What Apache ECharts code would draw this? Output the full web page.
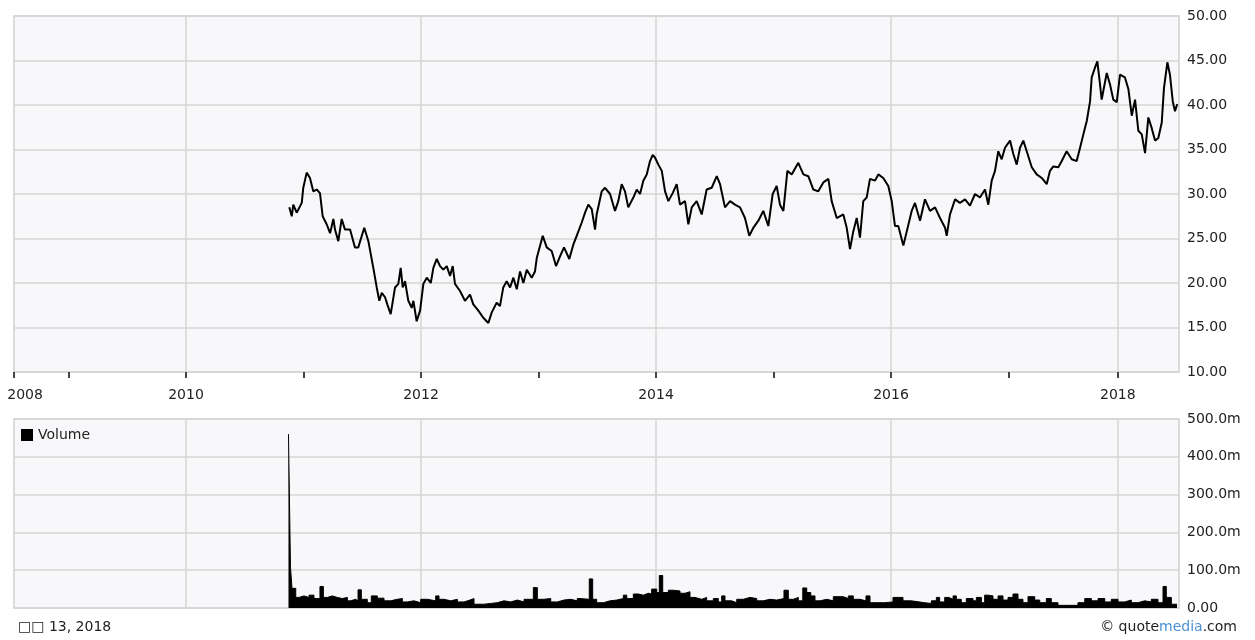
<!DOCTYPE html>
<html>
<head>
<meta charset="utf-8">
<script src="https://cdn.jsdelivr.net/npm/echarts@6/dist/echarts.min.js"></script>
<style>
html,body{margin:0;padding:0;background:#fff;}
#c{width:1255px;height:640px;}
</style>
</head>
<body>
<div id="c"></div>
<script>
// ---- Axis ranges & ticks (fractional years) ----
const xMin = 2008.536;
const xMax = 2018.451;
const yearTickValues = [2008.536, 2009, 2010, 2011, 2012, 2013, 2014, 2015, 2016, 2017, 2017.93];
const yearLabelValues = [2008.63, 2010, 2012, 2014, 2016, 2017.93];
const yearLabelTexts = ['2008', '2010', '2012', '2014', '2016', '2018'];
const yearGridValues = [2010, 2012, 2014, 2016, 2017.93];

// ---- Price (closing) ----
const priceYears = [
2010.879,2010.900,2010.913,2010.942,2010.985,2010.998,2011.027,2011.055,2011.083,2011.112,
2011.140,2011.163,2011.197,2011.226,2011.254,2011.268,2011.296,2011.325,2011.353,2011.396,
2011.438,2011.466,2011.517,2011.552,2011.594,2011.623,2011.645,2011.666,2011.694,2011.713,
2011.742,2011.779,2011.807,2011.827,2011.844,2011.864,2011.892,2011.921,2011.935,2011.963,
2011.992,2012.020,2012.049,2012.083,2012.105,2012.134,2012.162,2012.190,2012.219,2012.247,
2012.270,2012.289,2012.332,2012.374,2012.417,2012.445,2012.488,2012.530,2012.573,2012.602,
2012.644,2012.672,2012.700,2012.729,2012.758,2012.786,2012.815,2012.843,2012.871,2012.900,
2012.942,2012.970,2012.985,2013.036,2013.070,2013.112,2013.149,2013.183,2013.217,2013.262,
2013.296,2013.325,2013.368,2013.396,2013.424,2013.453,2013.481,2013.495,2013.538,2013.566,
2013.609,2013.651,2013.679,2013.708,2013.736,2013.764,2013.807,2013.836,2013.864,2013.892,
2013.921,2013.949,2013.972,2013.991,2014.020,2014.049,2014.077,2014.105,2014.142,2014.176,
2014.204,2014.247,2014.275,2014.304,2014.346,2014.389,2014.431,2014.474,2014.517,2014.545,
2014.587,2014.630,2014.672,2014.715,2014.757,2014.794,2014.828,2014.871,2014.913,2014.956,
2014.993,2015.027,2015.055,2015.084,2015.118,2015.155,2015.211,2015.254,2015.296,2015.339,
2015.381,2015.424,2015.467,2015.495,2015.538,2015.594,2015.623,2015.651,2015.679,2015.708,
2015.736,2015.764,2015.793,2015.821,2015.864,2015.892,2015.934,2015.977,2016.006,2016.034,
2016.062,2016.105,2016.134,2016.176,2016.204,2016.247,2016.289,2016.332,2016.375,2016.417,
2016.460,2016.474,2016.502,2016.545,2016.587,2016.630,2016.672,2016.715,2016.757,2016.800,
2016.828,2016.857,2016.885,2016.913,2016.942,2016.970,2017.013,2017.041,2017.070,2017.098,
2017.126,2017.155,2017.198,2017.240,2017.283,2017.325,2017.353,2017.381,2017.424,2017.453,
2017.495,2017.538,2017.580,2017.609,2017.637,2017.666,2017.694,2017.708,2017.736,2017.756,
2017.779,2017.793,2017.836,2017.864,2017.892,2017.921,2017.949,2017.991,2018.020,2018.049,
2018.077,2018.105,2018.134,2018.162,2018.190,2018.219,2018.247,2018.275,2018.304,2018.323,
2018.352,2018.374,2018.398,2018.417,2018.436
];
const priceValues = [
28.5,27.5,28.8,27.9,29.0,30.7,32.4,31.8,30.3,30.5,
30.1,27.5,26.6,25.6,27.2,26.0,24.7,27.2,26.0,26.0,
24.0,24.0,26.2,24.7,21.7,19.5,18.0,18.9,18.4,17.6,
16.5,19.5,19.9,21.7,19.5,20.2,18.0,17.2,18.0,15.7,
16.9,19.9,20.6,20.0,21.7,22.7,21.9,21.5,21.9,20.8,
21.9,19.9,19.1,18.0,18.7,17.6,16.9,16.1,15.5,16.7,
17.8,17.4,19.5,20.2,19.5,20.6,19.3,21.3,20.0,21.5,
20.6,21.3,22.8,25.3,24.0,23.6,21.9,23.0,24.0,22.7,
24.3,25.3,26.8,27.9,28.8,28.3,26.0,27.7,30.3,30.7,
30.0,28.1,29.2,31.1,30.3,28.5,29.6,30.5,30.0,31.5,
32.2,33.7,34.4,34.1,33.3,32.6,30.3,29.2,30.1,31.1,
28.8,29.2,26.6,28.5,29.2,27.7,30.5,30.7,32.0,31.1,
28.5,29.2,28.8,28.5,27.3,25.3,26.2,27.0,28.1,26.4,
30.0,30.9,28.8,28.1,32.6,32.2,33.5,32.2,32.0,30.5,
30.3,31.3,31.7,29.2,27.3,27.7,26.2,23.8,25.8,27.3,
25.1,29.2,29.6,31.7,31.5,32.2,31.8,30.9,29.2,26.4,
26.4,24.2,25.8,28.1,29.0,27.0,29.4,28.1,28.5,27.3,
26.2,25.3,27.7,29.4,29.0,29.4,28.7,30.0,29.6,30.5,
28.8,31.5,32.6,34.8,33.9,35.2,36.0,34.5,33.3,35.2,
36.0,34.8,33.0,32.2,31.8,31.1,32.6,33.1,33.0,33.7,
34.8,33.9,33.7,35.2,36.7,38.2,40.4,43.1,44.2,44.9,
42.3,40.6,43.6,42.3,40.6,40.3,43.4,43.1,41.8,38.8,
40.6,37.1,36.7,34.6,38.6,37.4,36.0,36.3,38.0,41.9,
44.8,43.4,40.4,39.3,40.1
];

// ---- Volume (millions), each value holds from its year to the next ----
const volumeYears = [
2010.872,2010.889,2010.902,2010.934,2010.962,2011.004,2011.047,2011.089,2011.140,2011.169,
2011.203,2011.245,2011.288,2011.330,2011.373,2011.401,2011.444,2011.464,2011.492,2011.543,
2011.577,2011.628,2011.685,2011.742,2011.798,2011.841,2011.883,2011.940,2011.997,2012.054,
2012.125,2012.153,2012.196,2012.253,2012.309,2012.366,2012.417,2012.451,2012.536,2012.593,
2012.649,2012.706,2012.763,2012.820,2012.877,2012.956,2012.990,2013.047,2013.104,2013.160,
2013.217,2013.274,2013.330,2013.353,2013.432,2013.461,2013.495,2013.552,2013.609,2013.666,
2013.722,2013.751,2013.807,2013.849,2013.892,2013.934,2013.963,2014.006,2014.028,2014.057,
2014.105,2014.147,2014.204,2014.247,2014.289,2014.332,2014.389,2014.431,2014.488,2014.530,
2014.559,2014.587,2014.644,2014.687,2014.743,2014.800,2014.857,2014.913,2014.970,2015.027,
2015.089,2015.126,2015.169,2015.211,2015.249,2015.283,2015.317,2015.353,2015.396,2015.453,
2015.509,2015.594,2015.637,2015.679,2015.736,2015.787,2015.821,2015.946,2016.017,2016.102,
2016.173,2016.287,2016.343,2016.386,2016.414,2016.457,2016.491,2016.528,2016.556,2016.598,
2016.641,2016.698,2016.726,2016.769,2016.797,2016.826,2016.868,2016.911,2016.953,2016.996,
2017.038,2017.081,2017.123,2017.166,2017.223,2017.266,2017.322,2017.364,2017.421,2017.591,
2017.649,2017.705,2017.762,2017.819,2017.875,2017.932,2017.989,2018.045,2018.102,2018.159,
2018.215,2018.272,2018.315,2018.343,2018.386,2018.434
];
const volumeValues = [
460,108,52,28,32,28,34,25,57,28,
32,28,25,28,19,23,19,48,23,14,
32,26,19,23,25,16,19,14,23,19,
32,23,19,23,16,21,25,10,12,14,
19,16,21,16,23,54,23,25,16,21,
23,19,25,23,77,23,14,19,21,25,
34,25,37,34,39,37,50,41,86,41,
47,45,39,43,28,23,28,19,25,16,
32,19,14,23,28,25,19,23,21,25,
47,23,28,19,53,41,32,19,23,19,
30,25,32,23,19,32,14,16,28,19,
14,12,19,28,16,28,23,32,23,14,
25,19,28,14,34,32,23,32,21,28,
37,23,14,30,21,14,25,14,7,14,
25,19,25,16,23,16,21,14,19,16,
23,14,57,28,10,10
];

const zip = (xs, ys) => xs.map((x, i) => [x, ys[i]]);

const FONT = 'DejaVu Sans';
const labelStyle = { color: '#222', fontFamily: FONT, fontSize: 14 };
const gridLine = { show: true, lineStyle: { color: '#d6d6d6', width: 1.5 } };

const chart = echarts.init(document.getElementById('c'), null, { renderer: 'canvas' });

chart.setOption({
  animation: false,
  backgroundColor: '#ffffff',
  legend: {
    data: ['Volume'],
    left: 16, top: 423,
    icon: 'rect', itemWidth: 12, itemHeight: 12, itemGap: 6,
    textStyle: { color: '#222', fontFamily: FONT, fontSize: 14 },
    selectedMode: false
  },
  grid: [
    { left: 14, right: 76, top: 16, height: 356, show: true, backgroundColor: '#f8f8fb', borderColor: '#cfcfcf', borderWidth: 1.5 },
    { left: 14, right: 76, top: 419, height: 189, show: true, backgroundColor: '#f8f8fb', borderColor: '#cfcfcf', borderWidth: 1.5 }
  ],
  xAxis: [
    { // top: ticks & labels
      type: 'value', gridIndex: 0, min: xMin, max: xMax, position: 'bottom',
      axisLine: { show: false },
      axisTick: { show: true, length: 6, inside: false, customValues: yearTickValues, lineStyle: { color: '#444', width: 2 } },
      axisLabel: {
        show: true, margin: 16, customValues: yearLabelValues, ...labelStyle,
        formatter: v => yearLabelTexts[yearLabelValues.indexOf(v)] ?? ''
      },
      splitLine: { show: false }
    },
    { // top: vertical grid lines
      type: 'value', gridIndex: 0, min: xMin, max: xMax, position: 'bottom',
      axisLine: { show: false },
      axisTick: { show: false, customValues: yearGridValues },
      axisLabel: { show: false },
      splitLine: gridLine
    },
    { // bottom: vertical grid lines
      type: 'value', gridIndex: 1, min: xMin, max: xMax, position: 'bottom',
      axisLine: { show: false },
      axisTick: { show: false, customValues: yearGridValues },
      axisLabel: { show: false },
      splitLine: gridLine
    }
  ],
  yAxis: [
    {
      type: 'value', gridIndex: 0, position: 'right', min: 10, max: 50, interval: 5,
      axisLine: { show: false }, axisTick: { show: false },
      axisLabel: { margin: 8, ...labelStyle, formatter: v => v.toFixed(2) },
      splitLine: gridLine
    },
    {
      type: 'value', gridIndex: 1, position: 'right', min: 0, max: 500, interval: 100,
      axisLine: { show: false }, axisTick: { show: false },
      axisLabel: { margin: 8, ...labelStyle, formatter: v => v === 0 ? '0.00' : v.toFixed(1) + 'm' },
      splitLine: gridLine
    }
  ],
  series: [
    {
      name: 'Price', type: 'line', xAxisIndex: 0, yAxisIndex: 0,
      data: zip(priceYears, priceValues),
      showSymbol: false, symbol: 'none', smooth: false,
      lineStyle: { color: '#000', width: 2 },
      itemStyle: { color: '#000' }
    },
    {
      name: 'Volume', type: 'line', xAxisIndex: 2, yAxisIndex: 1,
      data: zip(volumeYears, volumeValues),
      step: 'end', showSymbol: false, symbol: 'none',
      lineStyle: { color: '#000', width: 1 },
      areaStyle: { color: '#000', opacity: 1 },
      itemStyle: { color: '#000' }
    }
  ],
  graphic: [
    {
      type: 'text', left: 18, top: 620,
      style: { text: '\u25A1\u25A1 13, 2018', fill: '#222', font: '14px "DejaVu Sans"' }
    },
    {
      type: 'text', right: 18, top: 620,
      style: {
        text: '{a|\u00A9 quote}{b|media}{a|.com}',
        rich: {
          a: { fill: '#222', font: '14px "DejaVu Sans"' },
          b: { fill: '#4a90d6', font: '14px "DejaVu Sans"' }
        }
      }
    }
  ]
});
</script>
</body>
</html>
